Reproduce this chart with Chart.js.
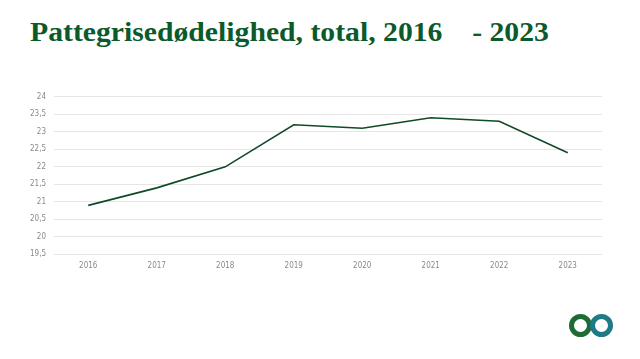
<!DOCTYPE html>
<html>
<head>
<meta charset="utf-8">
<script src="https://cdn.jsdelivr.net/npm/chart.js@4.4.1/dist/chart.umd.min.js"></script>
<style>
  html, body { margin: 0; padding: 0; background: #fff; width: 640px; height: 359px; overflow: hidden; }
  #title { position: absolute; left: 30px; top: 17px; font-family: "Liberation Serif", "DejaVu Serif", serif; font-weight: bold; font-size: 27px; color: #0b5a2c; white-space: pre; transform-origin: 0 0; transform: scaleX(1.10); }
  #wrap { position: absolute; left: 0; top: 84px; width: 602px; height: 185px; }
  .ring { position: absolute; width: 13px; height: 13px; border-radius: 50%; border: 5px solid; }
</style>
</head>
<body>
<div id="title">Pattegrisedødelighed, total, 2016    - 2023</div>
<div id="wrap"><canvas id="c"></canvas></div>
<div class="ring" style="left:569px; top:314px; border-color:#1f6b35;"></div>
<div class="ring" style="left:590px; top:314px; border-color:#1d7a86;"></div>
<script>
const years = ["2016","2017","2018","2019","2020","2021","2022","2023"];
const mortality = [20.9, 21.4, 22.0, 23.2, 23.1, 23.4, 23.3, 22.4];
const yMin = 19.5, yMax = 24, yStep = 0.5;

new Chart(document.getElementById('c'), {
  type: 'line',
  data: {
    labels: years,
    datasets: [{
      data: mortality,
      borderColor: '#0f4a26',
      borderWidth: 1.6,
      pointRadius: 0,
      tension: 0,
      fill: false
    }]
  },
  options: {
    responsive: true,
    maintainAspectRatio: false,
    animation: false,
    layout: { padding: { left: 22, right: 0, top: 10, bottom: 0 } },
    plugins: { legend: { display: false }, tooltip: { enabled: false } },
    scales: {
      x: {
        offset: true,
        grid: { display: false },
        border: { display: false },
        ticks: { color: '#8a8a8a', font: { family: '"Liberation Sans Narrow", "DejaVu Sans Condensed", sans-serif', size: 8 }, padding: -1.5 }
      },
      y: {
        min: yMin, max: yMax,
        grid: { color: '#e6e6e6', lineWidth: 1, drawTicks: false },
        border: { display: false },
        ticks: {
          stepSize: yStep,
          color: '#8a8a8a',
          padding: 8,
          font: { family: '"Liberation Sans Narrow", "DejaVu Sans Condensed", sans-serif', size: 8 },
          callback: v => String(v).replace('.', ',')
        }
      }
    }
  }
});
</script>
</body>
</html>
